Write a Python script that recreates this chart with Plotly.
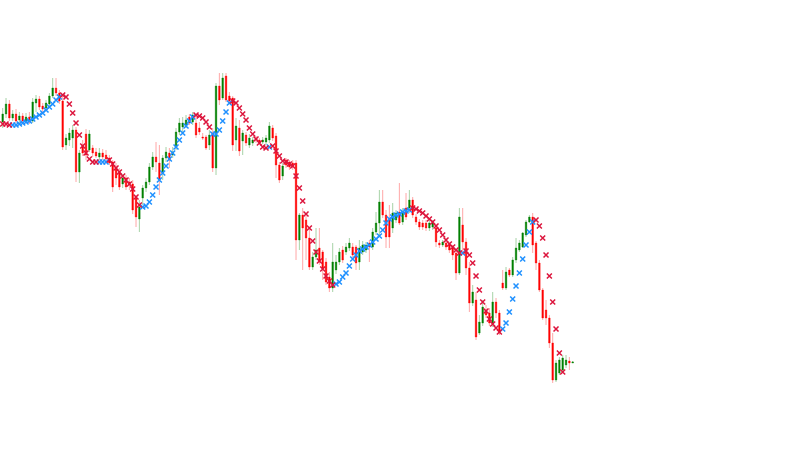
import plotly.graph_objects as go

# bar-by-bar prices (172 bars)
opens = [
    328, 336, 346, 332, 336, 330, 334, 329, 333, 329,
    347, 351, 344, 342, 346, 354, 362, 357, 349, 305,
    310, 312, 320, 278, 305, 316, 300, 302, 298, 293,
    297, 295, 292, 288, 283, 278, 266, 272, 268, 266,
    252, 231, 252, 262, 268, 283, 293, 287, 277, 292,
    297, 295, 303, 318, 323, 325, 333, 328, 327, 322,
    313, 313, 305, 317, 282, 364, 352, 374, 354, 352,
    310, 322, 309, 315, 305, 307, 312, 310, 308, 308,
    310, 322, 314, 285, 274, 290, 288, 287, 287, 210,
    235, 230, 212, 183, 193, 202, 198, 188, 173, 162,
    180, 188, 200, 198, 202, 203, 203, 188, 198, 200,
    207, 203, 218, 227, 248, 235, 230, 222, 230, 238,
    228, 242, 242, 250, 233, 228, 227, 227, 222, 223,
    222, 207, 205, 207, 205, 202, 197, 177, 225, 208,
    182, 147, 150, 117, 127, 140, 137, 127, 148, 137,
    167, 162, 180, 175, 190, 200, 203, 215, 228, 233,
    207, 187, 160, 140, 132, 107, 70, 77, 80, 85,
    89, 87,
]
closes = [
    336, 346, 332, 336, 329, 334, 329, 333, 328, 348,
    351, 343, 341, 347, 354, 362, 357, 349, 303, 312,
    317, 320, 278, 297, 297, 295, 316, 297, 294, 297,
    293, 291, 287, 263, 272, 263, 272, 263, 265, 240,
    233, 243, 262, 268, 283, 293, 288, 270, 292, 298,
    290, 298, 318, 327, 327, 330, 327, 335, 315, 318,
    312, 302, 315, 282, 364, 350, 372, 350, 349, 305,
    324, 299, 317, 307, 312, 310, 310, 307, 310, 312,
    324, 312, 285, 270, 284, 285, 283, 283, 210, 235,
    222, 212, 183, 193, 200, 188, 182, 168, 162, 188,
    188, 198, 190, 203, 207, 195, 187, 202, 205, 205,
    203, 218, 227, 248, 235, 213, 213, 237, 237, 227,
    238, 233, 250, 235, 228, 223, 223, 222, 227, 227,
    208, 205, 208, 203, 200, 195, 177, 233, 208, 182,
    147, 158, 113, 128, 143, 135, 127, 148, 137, 117,
    162, 178, 175, 190, 202, 207, 217, 228, 233, 205,
    187, 160, 132, 132, 107, 70, 87, 90, 92, 90,
    87, 88,
]
highs = [
    342, 352, 350, 340, 341, 338, 337, 337, 338, 352,
    355, 354, 347, 350, 357, 372, 372, 360, 354, 316,
    322, 325, 323, 300, 310, 321, 320, 305, 302, 302,
    301, 300, 295, 290, 287, 282, 276, 275, 272, 270,
    255, 250, 265, 272, 287, 298, 308, 305, 295, 303,
    302, 303, 322, 332, 333, 335, 336, 338, 335, 328,
    317, 315, 320, 322, 367, 377, 377, 377, 358, 354,
    332, 330, 320, 318, 316, 313, 314, 312, 313, 315,
    328, 325, 317, 288, 287, 292, 290, 290, 290, 237,
    242, 234, 222, 198, 222, 222, 200, 192, 178, 207,
    195, 202, 204, 207, 212, 207, 205, 210, 209, 208,
    210, 222, 238, 260, 260, 240, 245, 247, 240, 267,
    242, 257, 260, 253, 236, 231, 230, 230, 230, 230,
    226, 210, 210, 212, 208, 205, 200, 242, 242, 212,
    188, 165, 158, 135, 150, 145, 142, 158, 152, 140,
    180, 183, 182, 193, 212, 210, 218, 230, 235, 237,
    209, 190, 162, 150, 135, 117, 90, 93, 95, 95,
    93, 89,
]
lows = [
    322, 332, 329, 329, 327, 327, 327, 328, 326, 327,
    338, 340, 338, 340, 344, 352, 354, 346, 300, 300,
    304, 302, 268, 267, 294, 290, 298, 293, 292, 290,
    290, 288, 285, 258, 265, 260, 262, 260, 260, 236,
    223, 218, 245, 258, 265, 280, 278, 255, 270, 288,
    282, 292, 300, 315, 318, 322, 325, 325, 312, 315,
    310, 300, 300, 278, 275, 345, 350, 348, 346, 299,
    299, 294, 295, 304, 302, 304, 307, 305, 306, 305,
    307, 309, 272, 267, 270, 282, 280, 280, 190, 200,
    180, 190, 180, 180, 190, 185, 170, 165, 158, 158,
    176, 185, 187, 195, 199, 192, 180, 180, 195, 197,
    188, 200, 215, 213, 232, 202, 202, 217, 227, 225,
    225, 230, 237, 232, 225, 220, 220, 219, 219, 220,
    203, 202, 203, 200, 197, 190, 170, 175, 195, 175,
    138, 144, 110, 115, 124, 132, 124, 123, 132, 115,
    160, 160, 173, 173, 187, 198, 202, 213, 227, 197,
    180, 158, 130, 125, 102, 67, 68, 75, 77, 82,
    80, 87,
]

# parabolic SAR dots, and which side of price each one sits on
# U = rising (below price), D = falling (above price), - = none
sar = [
    326, 326, 325, 325, 325, 326, 327, 328, 329, 331,
    333, 335, 337, 340, 343, 346, 350, 353, 355, 353,
    346, 337, 327, 315, 304, 297, 291, 288, 288, 288,
    288, 288, 290, 286, 282, 278, 274, 270, 266, 261,
    253, 245, 243, 244, 248, 255, 263, 270, 277, 284,
    291, 297, 303, 310, 317, 324, 329, 333, 335, 334,
    332, 328, 323, 316, 316, 320, 329, 338, 347, 349,
    347, 342, 336, 330, 322, 316, 311, 307, 303, 302,
    303, 304, 299, 294, 289, 288, 286, 284, 274, 262,
    249, 236, 222, 209, 198, 189, 181, 174, 169, 165,
    166, 168, 173, 177, 184, 191, 195, 199, 201, 203,
    205, 208, 211, 214, 220, 227, 231, 233, 235, 236,
    238, 239, 240, 242, 241, 239, 237, 234, 231, 228,
    224, 220, 215, 210, 206, 203, 200, 197, 197, 199,
    195, 187, 174, 160, 148, 139, 131, 126, 122, 118,
    121, 127, 138, 151, 164, 177, 191, 205, 218, 228,
    230, 224, 212, 195, 174, 148, 121, 97, 78, None,
    None, None,
]
sar_side = (
    "DDDUUUUUUUUUUUUUUUDDDDDDDDDDDUUUDDDDDDDDDDUUUUUUUUUUUUUUUUDDDDDUUUUUU"
    "DDDDDDDDDDDUDDDDDDDDDDDDDDDDDDDUUUUUUUUUUUUUUUUUUUUUUUDDDDDDDDDDDDDDD"
    "UDDDDDDDDDDDUUUUUUUUUUDDDDDDDDD---"
)

bars = list(range(len(opens)))

fig = go.Figure()

fig.add_trace(go.Candlestick(
    x=bars, open=opens, high=highs, low=lows, close=closes,
    increasing=dict(line=dict(color="rgba(0,128,0,0.35)", width=1), fillcolor="#008000"),
    decreasing=dict(line=dict(color="rgba(255,0,0,0.35)", width=1), fillcolor="#ff0000"),
    whiskerwidth=0,
    name="price",
))

for side, color in (("U", "#1e90ff"), ("D", "#dc143c")):
    xs = [b for b, s in zip(bars, sar_side) if s == side]
    ys = [v for v, s in zip(sar, sar_side) if s == side]
    fig.add_trace(go.Scatter(
        x=xs, y=ys, mode="markers",
        marker=dict(symbol="x-thin", size=5, color=color, line=dict(width=1.5, color=color)),
        name="SAR " + side,
    ))

fig.update_layout(
    width=800, height=450,
    margin=dict(l=0, r=0, t=0, b=0),
    showlegend=False,
    hovermode=False,
    plot_bgcolor="white",
    paper_bgcolor="white",
    xaxis=dict(visible=False, range=[-0.81, 239.19], rangeslider=dict(visible=False)),
    yaxis=dict(visible=False, range=[0, 450]),
)

# the page body has an 8px default margin; drop it so the plot sits at the window corner
fig.write_html(
    "out.html",
    config={"displayModeBar": False},
    post_script="document.body.style.margin = '0';",
)
